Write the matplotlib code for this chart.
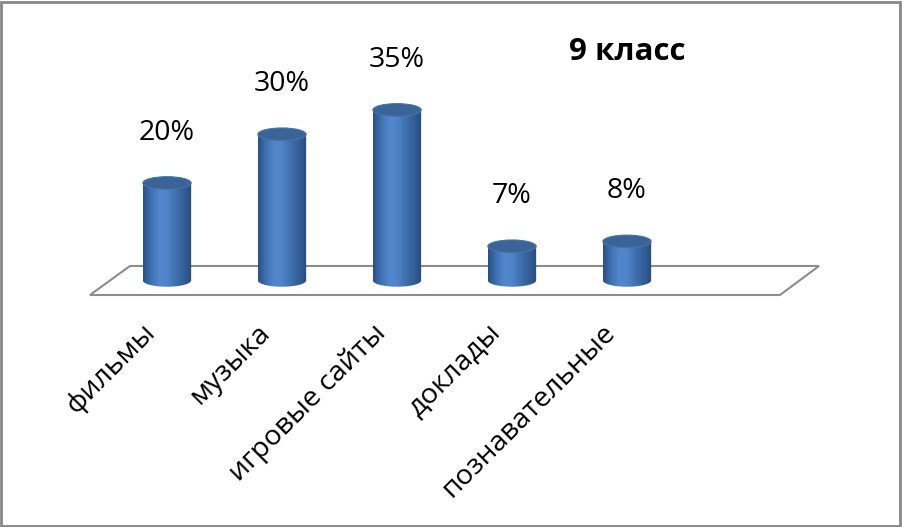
import matplotlib.pyplot as plt
import numpy as np
from matplotlib.patches import Ellipse, Polygon, Rectangle
from matplotlib.colors import LinearSegmentedColormap

categories = ['фильмы', 'музыка', 'игровые сайты', 'доклады', 'познавательные']
values = [20, 30, 35, 7, 8]
value_labels = ['20%', '30%', '35%', '7%', '8%']
title = '9 класс'

plt.rcParams['font.family'] = ['Open Sans', 'DejaVu Sans']

fig = plt.figure(figsize=(9.02, 5.27), dpi=100)
ax = fig.add_axes([0, 0, 1, 1])
ax.axis('off')

# 1 category = 115 px, 1 percent = 4.87 px, base of bars at px (167, 280)
xlim = (-167 / 115, (902 - 167) / 115)
ylim = ((280.4 - 527) / 4.87, 280.4 / 4.87)

# floor
floor = Polygon([(-0.670, -3.0), (-0.322, 2.96), (5.670, 2.96), (5.330, -3.0)],
                closed=True, facecolor='white', edgecolor='#8c8c8c', lw=1.5, zorder=1)
ax.add_patch(floor)

cmap = LinearSegmentedColormap.from_list(
    'cyl', ['#2a5082', '#3f71b2', '#5387cc', '#4f84c8', '#4070ae', '#335f97', '#294c7b'])
grad = np.linspace(0, 1, 256).reshape(1, -1)

w = 0.42
eh = 2.6
t = np.linspace(np.pi, 2 * np.pi, 60)
for i, v in enumerate(values):
    xs = i + np.cos(t) * w / 2
    bottom = np.sin(t) * eh / 2
    pts = [(i - w / 2, v)] + list(zip(xs, bottom)) + [(i + w / 2, v)]
    body = Polygon(pts, closed=True, facecolor='none', edgecolor='none', zorder=2)
    ax.add_patch(body)
    im = ax.imshow(grad, cmap=cmap, extent=(i - w / 2, i + w / 2, -eh, v),
                   aspect='auto', zorder=2, interpolation='bilinear')
    im.set_clip_path(body)
    top = Ellipse((i, v), w, eh, facecolor='#3a6397', edgecolor='#4774ab', lw=0.8, zorder=3)
    ax.add_patch(top)
    ax.text(i, v + 10.3, value_labels[i], ha='center', va='center', fontsize=20.5, color='black')
    ax.text(i - 0.22, -7.9, categories[i], rotation=45, rotation_mode='anchor',
            ha='right', va='top', fontsize=20.5, color='black')

ax.text(4.0, (280.4 - 52) / 4.87, title, ha='center', va='center',
        fontsize=22.5, fontweight='bold', color='black')

ax.set_xlim(*xlim)
ax.set_ylim(*ylim)

fig.add_artist(Rectangle((0.001, 0.002), 0.997, 0.995, transform=fig.transFigure,
                         fill=False, edgecolor='#878787', lw=2))

fig.savefig('out.png', dpi=100)
